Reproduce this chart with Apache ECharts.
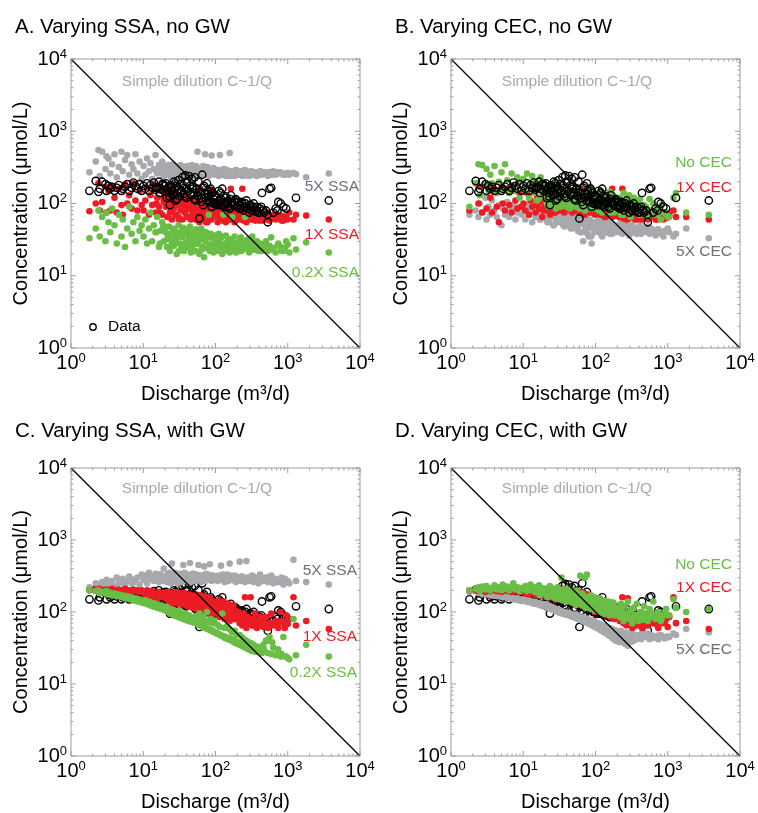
<!DOCTYPE html>
<html><head><meta charset="utf-8">
<script src="https://cdn.jsdelivr.net/npm/echarts@6/dist/echarts.min.js"></script>
<style>html,body{margin:0;padding:0;background:#fff}#c{width:758px;height:813px}</style>
</head><body><div id="c"></div>
<script>
// Discharge of each sample (m3/d), shared by observed data and all model runs
const Q = [
  1.8, 2.2, 2.4, 2.5, 2.7, 3.0, 3.1, 3.3, 3.5, 3.7, 4.0, 4.3, 4.6, 5.0, 5.2, 5.6, 6.0, 6.4, 6.9, 7.3, 7.8, 8.3, 8.9, 9.5,
  10.1, 10.7, 11.3, 12.0, 12.6, 13.3, 14.0, 14.8, 15.6, 16.5, 17.4, 18.3, 19.2, 19.9,
  20.5, 21.2, 22.0, 22.7, 23.4, 24.1, 24.9, 25.7, 26.5, 27.3, 28.2, 29.0, 29.9, 30.8, 31.8, 32.8, 33.8, 34.8, 35.9, 37.0, 38.1, 39.3, 40.5, 41.7, 43.0, 44.3, 45.6, 47.0, 48.5, 50.0,
  51.5, 53.1, 54.7, 56.4, 58.1, 59.9, 61.7, 63.6, 65.5, 67.5, 69.6, 71.7, 73.9, 76.1, 78.4, 80.8, 83.3, 85.8, 88.4, 91.1, 93.9, 96.7, 99.6,
  103, 107, 111, 115, 119, 124, 129, 134, 139, 145, 151, 157, 163, 170, 177, 184, 191, 199,
  207, 216, 225, 235, 245, 256, 268, 280, 293, 307, 322, 338, 355, 374, 394, 415, 440, 470,
  500, 530, 560, 590, 630, 680, 740, 800, 870, 950,
  1050, 1200, 1300, 1800, 3700,
  15.2, 17.0, 19.0, 21.6, 23.0, 24.5, 26.1, 27.8, 29.5, 31.3, 33.2, 35.3, 37.5, 39.8, 42.2, 44.9, 47.7, 50.7, 53.8, 57.2,
  60.7, 64.5, 68.5, 72.8, 77.3, 82.1, 87.2, 92.6, 98.4, 105, 112, 118, 126, 133, 142, 150, 160, 170, 180, 192,
  204, 216, 230, 244, 260, 276, 293, 312, 331, 352, 375, 400, 430, 460, 520, 610, 720, 820, 910, 1000
];
// Observed concentrations (umol/L)
const obs = [
  150, 205, 145, 160, 200, 185, 150, 175, 160, 170, 150, 165, 180, 150, 160, 170, 185, 150, 165, 195, 175, 160, 185, 150,
  175, 160, 190, 150, 180, 165, 195, 155, 170, 200, 160, 185, 150, 175,
  190, 120, 165, 140, 95, 180, 150, 130, 200, 160, 110, 175, 140, 210, 125, 185, 150, 230, 135, 165, 245, 120, 195, 150, 240, 175, 130, 220, 160, 140,
  230, 110, 160, 130, 200, 62, 145, 120, 250, 95, 175, 135, 110, 190, 150, 125, 105, 160, 90, 140, 115, 100, 130,
  120, 100, 150, 95, 115, 160, 105, 90, 125, 100, 110, 85, 130, 100, 95, 105, 115, 90,
  105, 95, 85, 100, 80, 90, 110, 85, 75, 95, 80, 100, 78, 90, 75, 85, 140, 75,
  80, 55, 160, 165, 75, 85, 105, 100, 90, 85,
  null, null, 120, null, 110,
  165, 140, 185, 155, 125, 170, 135, 190, 115, 160, 145, 180, 125, 200, 150, 135, 170, 115, 155, 125,
  140, 105, 165, 120, 135, 110, 150, 100, 125, 95, 110, 140, 95, 120, 100, 90, 115, 105, 95, 110,
  95, 85, 105, 90, 100, 85, 95, 80, 90, 85, 80, 75, 90, 80, 70, null, 80, null, null, null
];
// Panel A: varying SSA, no GW
const a5xSSA = [
  270, 380, 550, 240, 520, 300, 450, 420, 260, 350, 480, 230, 320, 520, 280, 400, 470, 250, 350, 300, 480, 260, 380, 220,
  330, 250, 420, 280, 360, 220, 300, 470, 260, 340, 290, 380, 240, 320,
  300, 250, 340, 270, 320, 230, 290, 350, 260, 310, 240, 330, 280, 300, 250, 340, 270, 320, 230, 290, 310, 260, 330, 280, 250, 300, 270, 340, 240, 310,
  290, 250, 270, 520, 310, 240, 300, 260, 280, 330, 250, 480, 290, 260, 310, 240, 270, 300, 460, 280, 310, 260, 290,
  260, 290, 240, 470, 280, 250, 300, 270, 240, 290, 260, 500, 280, 250, 270, 240, 290, 260,
  270, 250, 280, 240, 260, 290, 250, 270, 240, 280, 260, 250, 270, 240, 260, 280, 250, 270,
  260, 240, 270, 250, 280, 250, 260, 270, 250, 260,
  250, 265, 255, 230, 260,
  280, 320, 250, 300, 340, 260, 310, 290, 240, 330, 300, 270, 320, 250, 290, 310, 260, 280, 330, 240,
  270, 300, 250, 290, 320, 260, 280, 300, 250, 270, 290, 250, 270, 300, 260, 280, 240, 270, 260, 290,
  250, 275, 260, 285, 245, 270, 255, 280, 260, 250, 265, 250, 275, 260, 270, 255, 270, 260, 250, 265
];
const a1xSSA = [
  78, 100, 190, 80, 105, 170, 75, 150, 80, 175, 120, 75, 160, 95, 70, 185, 100, 130, 85, 190, 110, 80, 150, 95,
  80, 110, 165, 70, 130, 95, 180, 75, 120, 90, 150, 70, 105, 160,
  90, 120, 65, 105, 75, 130, 60, 100, 85, 115, 70, 95, 125, 65, 110, 80, 100, 60, 120, 90, 75, 105, 65, 115, 85, 95, 60, 110, 75, 100,
  85, 60, 105, 70, 95, 55, 160, 80, 65, 100, 75, 90, 55, 110, 70, 85, 60, 150, 75, 95, 65, 80, 70,
  75, 55, 90, 65, 80, 60, 95, 70, 55, 85, 65, 75, 160, 60, 80, 55, 70, 65,
  70, 60, 85, 160, 65, 75, 55, 80, 65, 90, 60, 70, 58, 75, 62, 68, 58, 72,
  60, 75, 58, 65, 70, 60, 62, 68, 58, 65,
  75, 60, 70, 68, 60,
  100, 75, 120, 65, 95, 80, 110, 70, 100, 60, 90, 120, 75, 105, 65, 95, 70, 110, 60, 85,
  75, 100, 65, 90, 55, 85, 60, 95, 70, 80, 65, 90, 58, 75, 85, 70, 60, 80, 65, 75,
  62, 78, 68, 58, 72, 66, 60, 74, 62, 70, 64, 58, 70, 62, 66, 62, 70, 58, 66, 60
];
const a02xSSA = [
  33, 45, 80, 35, 65, 30, 75, 55, 40, 85, 50, 28, 70, 35, 60, 25, 45, 90, 38, 55, 30, 65, 42, 50,
  35, 60, 28, 45, 75, 30, 50, 40, 65, 25, 42, 55, 30, 48,
  40, 25, 35, 48, 22, 38, 30, 45, 26, 42, 33, 20, 36, 50, 28, 40, 24, 34, 46, 22, 37, 29, 43, 25, 35, 48, 21, 32, 40, 27,
  35, 22, 42, 28, 38, 20, 32, 45, 25, 36, 18, 30, 40, 24, 34, 70, 22, 38, 27, 33, 21, 36, 26,
  30, 22, 38, 26, 34, 20, 70, 28, 36, 24, 32, 21, 30, 65, 26, 35, 22, 28,
  28, 22, 34, 25, 30, 65, 24, 32, 21, 28, 35, 23, 26, 30, 22, 28, 25, 24,
  30, 22, 26, 34, 24, 21, 28, 25, 22, 30,
  21, 33, 23, 29, 21,
  40, 28, 48, 32, 36, 26, 42, 30, 38, 22, 35, 45, 27, 40, 30, 24, 38, 33, 44, 28,
  36, 23, 40, 30, 34, 27, 37, 22, 33, 29, 31, 25, 35, 22, 28, 26, 32, 23, 29, 21,
  25, 30, 22, 27, 24, 28, 22, 26, 30, 23, 24, 27, 22, 26, 25, 23, 26, 22, 24, 27
];
// Panel B: varying CEC, no GW
const bNoCEC = [
  90, 190, 350, 130, 340, 180, 300, 150, 250, 190, 330, 140, 200, 270, 160, 350, 210, 140, 260, 180, 150, 230, 120, 200,
  220, 150, 260, 120, 180, 240, 140, 200, 110, 170, 230, 130, 190, 150,
  130, 100, 160, 90, 140, 115, 180, 95, 125, 150, 85, 110, 170, 100, 135, 90, 120, 155, 105, 140, 95, 115, 175, 100, 130, 85, 120, 150, 95, 110,
  120, 90, 140, 100, 160, 85, 115, 130, 95, 150, 105, 80, 125, 140, 95, 110, 170, 85, 100, 130, 90, 120, 105,
  95, 130, 80, 110, 150, 75, 100, 140, 85, 120, 95, 145, 75, 110, 130, 80, 105, 90,
  85, 120, 70, 100, 140, 75, 110, 90, 130, 65, 95, 120, 75, 105, 85, 115, 70, 95,
  90, 65, 115, 80, 100, 70, 85, 60, 75, 70,
  65, 120, 140, 75, 70,
  150, 120, 180, 100, 140, 110, 160, 95, 130, 115, 125, 100, 145, 90, 115, 105, 135, 95, 120, 100,
  110, 90, 130, 95, 115, 100, 120, 85, 110, 95, 90, 110, 80, 100, 120, 85, 105, 95, 75, 100,
  90, 80, 100, 70, 85, 95, 75, 85, 100, 80, 90, 70, 80, 95, 75, 80, 70, 95, 75, 65
];
const b1xCEC = [
  80, 190, 100, 170, 75, 180, 85, 160, 120, 75, 150, 90, 55, 170, 100, 80, 160, 95, 75, 150, 110, 85, 140, 90,
  100, 80, 140, 70, 110, 90, 160, 75, 120, 85, 105, 65, 130, 95,
  110, 80, 130, 95, 70, 120, 100, 85, 140, 75, 115, 90, 105, 130, 80, 100, 120, 90, 145, 75, 110, 95, 130, 85, 100, 115, 80, 120, 150, 90,
  100, 80, 120, 95, 140, 75, 110, 90, 160, 85, 105, 70, 125, 95, 80, 115, 100, 75, 110, 90, 130, 85, 95,
  90, 75, 110, 85, 70, 100, 80, 95, 65, 85, 105, 70, 90, 160, 75, 95, 80, 70,
  80, 65, 95, 160, 70, 85, 60, 90, 75, 65, 80, 70, 95, 60, 75, 85, 65, 70,
  70, 60, 80, 65, 75, 60, 70, 65, 60, 75,
  70, 80, 65, 65, 60,
  95, 120, 80, 110, 100, 85, 105, 75, 95, 115, 90, 80, 110, 85, 100, 95, 75, 105, 85, 90,
  80, 100, 70, 90, 85, 75, 95, 80, 70, 90, 85, 70, 80, 65, 75, 70, 80, 65, 75, 68,
  72, 65, 78, 62, 70, 68, 62, 75, 66, 60, 70, 64, 60, 68, 62, 66, 60, 70, 62, 64
];
const b5xCEC = [
  70, 80, 65, 100, 75, 120, 60, 90, 70, 110, 80, 65, 95, 50, 85, 70, 105, 65, 80, 95, 60, 75, 90, 70,
  85, 60, 95, 70, 80, 55, 100, 65, 75, 90, 60, 80, 70, 85,
  75, 60, 85, 55, 70, 90, 65, 80, 50, 75, 60, 85, 70, 55, 80, 65, 75, 90, 50, 70, 60, 80, 55, 70, 65, 75, 45, 60, 70, 55,
  65, 50, 70, 45, 60, 75, 40, 55, 65, 30, 60, 50, 70, 45, 55, 35, 60, 50, 28, 45, 55, 40, 50,
  55, 45, 60, 40, 50, 35, 55, 45, 60, 40, 50, 38, 55, 45, 42, 50, 40, 48,
  50, 42, 55, 38, 48, 45, 40, 52, 36, 45, 50, 40, 46, 38, 44, 50, 40, 45,
  42, 48, 38, 45, 40, 36, 44, 40, 35, 42,
  40, 35, 38, 45, 33,
  70, 60, 80, 55, 75, 65, 50, 72, 58, 62, 55, 68, 48, 60, 52, 58, 45, 62, 50, 42,
  52, 40, 55, 45, 38, 48, 35, 50, 42, 55, 45, 38, 50, 40, 48, 42, 50, 38, 46, 44,
  45, 40, 48, 42, 50, 44, 38, 46, 40, 42, 42, 45, 38, 44, 40, 40, 44, 38, 42, 45
];
// Panel C: varying SSA, with GW
const c5xSSA = [
  220, 250, 240, 210, 260, 230, 280, 250, 240, 270, 230, 300, 250, 260, 290, 240, 270, 310, 250, 280, 260, 300, 240, 330,
  280, 320, 250, 350, 290, 310, 270, 340, 300, 260, 330, 290, 400, 310,
  300, 260, 340, 280, 320, 250, 470, 300, 270, 350, 290, 310, 250, 330, 280, 300, 260, 340, 450, 290, 310, 270, 330, 280, 300, 480, 260, 320, 290, 340,
  310, 270, 330, 290, 450, 280, 300, 260, 320, 290, 430, 270, 310, 290, 330, 280, 460, 300, 270, 320, 290, 310, 280,
  300, 270, 320, 290, 440, 280, 310, 260, 300, 330, 270, 470, 290, 310, 280, 320, 260, 300,
  290, 500, 270, 310, 280, 260, 510, 300, 270, 290, 320, 260, 280, 300, 250, 330, 270, 290,
  300, 260, 280, 320, 250, 290, 260, 280, 240, 270,
  250, 530, 270, 260, 240,
  290, 330, 270, 310, 350, 280, 320, 300, 260, 340, 310, 280, 350, 290, 320, 300, 340, 270, 310, 290,
  320, 280, 300, 340, 290, 300, 320, 280, 310, 290, 310, 280, 330, 290, 300, 290, 320, 280, 300, 310,
  300, 280, 310, 290, 270, 290, 300, 270, 310, 280, 280, 300, 290, 270, 300, 280, 260, 300, 290, 270
];
const c1xSSA = [
  200, 205, 195, 210, 200, 190, 205, 200, 195, 210, 200, 195, 205, 190, 200, 210, 195, 200, 190, 205, 195, 200, 190, 200,
  190, 170, 200, 180, 160, 195, 175, 185, 155, 190, 170, 180, 160, 185,
  180, 150, 190, 140, 170, 160, 185, 130, 175, 150, 165, 190, 140, 170, 125, 180, 155, 165, 135, 185, 150, 170, 120, 160, 145, 175, 130, 165, 115, 150,
  160, 120, 175, 110, 150, 135, 170, 100, 145, 125, 165, 95, 140, 115, 160, 105, 150, 130, 90, 140, 110, 125, 100,
  130, 95, 145, 85, 120, 100, 140, 80, 115, 95, 130, 75, 110, 90, 125, 80, 105, 95,
  100, 70, 90, 65, 95, 160, 60, 85, 70, 160, 65, 80, 95, 60, 75, 85, 65, 70,
  85, 60, 70, 95, 65, 75, 60, 100, 70, 90,
  80, 160, 65, 75, 58,
  175, 160, 185, 150, 170, 145, 180, 160, 135, 175, 155, 130, 170, 145, 120, 150, 125, 160, 110, 140,
  130, 150, 115, 135, 105, 125, 100, 140, 110, 95, 115, 90, 120, 100, 85, 105, 85, 95, 80, 100,
  90, 75, 85, 70, 80, 75, 68, 80, 65, 72, 70, 65, 75, 62, 68, 70, 65, 75, 60, 68
];
const c02xSSA = [
  200, 195, 200, 185, 190, 180, 195, 175, 185, 170, 180, 165, 175, 160, 170, 155, 165, 150, 160, 145, 155, 140, 150, 135,
  133, 145, 128, 140, 123, 135, 118, 130, 115, 125, 112, 122, 108, 118,
  105, 118, 100, 112, 98, 94, 108, 92, 104, 89, 100, 87, 96, 85, 105, 83, 93, 81, 90, 79, 95, 77, 87, 76, 90, 74, 84, 73, 81, 72,
  71, 88, 69, 82, 67, 95, 65, 78, 63, 85, 62, 75, 60, 100, 58, 72, 57, 80, 56, 70, 54, 76, 52,
  51, 66, 49, 62, 48, 95, 46, 60, 45, 64, 43, 57, 42, 52, 41, 55, 39, 48,
  38, 48, 36, 44, 34, 41, 33, 39, 31, 37, 30, 35, 29, 33, 28, 31, 27, 30,
  40, 27, 45, 26, 32, 25, 30, 24, 45, 24,
  22, 80, 25, 35, 24,
  120, 112, 108, 102, 100, 97, 95, 93, 90, 88, 86, 84, 82, 80, 78, 76, 74, 72, 70, 68,
  66, 64, 62, 60, 58, 57, 55, 53, 52, 50, 49, 47, 46, 44, 43, 42, 41, 40, 38, 37,
  36, 35, 34, 33, 32, 31, 30, 29, 29, 28, 28, 30, 32, 35, 40, 38, 30, 26, 24, 23
];
// Panel D: varying CEC, with GW
const dNoCEC = [
  200, 210, 220, 195, 225, 205, 230, 210, 200, 215, 235, 205, 220, 200, 240, 210, 225, 200, 215, 250, 205, 220, 195, 215,
  205, 230, 195, 215, 240, 200, 220, 190, 210, 235, 195, 215, 185, 205,
  200, 170, 215, 185, 230, 175, 195, 165, 210, 180, 200, 160, 220, 175, 195, 155, 300, 180, 205, 160, 190, 150, 210, 170, 185, 145, 200, 165, 180, 140,
  175, 140, 195, 150, 170, 135, 320, 155, 180, 130, 165, 300, 145, 330, 125, 160, 140, 170, 120, 150, 135, 160, 115,
  140, 110, 155, 100, 130, 120, 145, 95, 125, 110, 140, 90, 120, 105, 135, 90, 115, 100,
  110, 85, 130, 95, 75, 120, 90, 140, 80, 105, 70, 115, 90, 130, 75, 100, 85, 120,
  95, 75, 110, 85, 140, 80, 100, 75, 90, 110,
  90, 150, 115, 100, 110,
  190, 170, 205, 160, 180, 165, 190, 155, 175, 150, 170, 145, 180, 140, 160, 150, 135, 165, 125, 145,
  140, 125, 150, 115, 135, 125, 110, 135, 105, 120, 115, 100, 125, 95, 110, 105, 95, 115, 90, 100,
  100, 90, 110, 85, 95, 95, 85, 105, 80, 90, 90, 80, 100, 78, 85, 95, 85, 80, 100, 90
];
const d1xCEC = [
  200, 205, 195, 210, 200, 190, 205, 200, 195, 210, 200, 195, 205, 190, 200, 210, 195, 200, 190, 205, 195, 200, 190, 200,
  195, 180, 205, 175, 190, 185, 200, 170, 190, 180, 195, 175, 185, 180,
  185, 170, 200, 160, 190, 175, 205, 165, 180, 195, 155, 185, 170, 200, 160, 190, 175, 210, 165, 185, 150, 195, 170, 180, 160, 190, 145, 175, 165, 200,
  180, 150, 200, 140, 170, 160, 190, 135, 165, 155, 180, 130, 160, 145, 175, 125, 150, 140, 120, 150, 130, 145, 115,
  140, 110, 130, 100, 125, 115, 135, 95, 120, 105, 130, 90, 115, 100, 125, 85, 110, 95,
  100, 80, 95, 160, 75, 90, 65, 155, 70, 95, 60, 80, 90, 65, 75, 85, 60, 70,
  85, 65, 75, 95, 70, 80, 60, 90, 70, 80,
  85, 160, 70, 75, 58,
  175, 195, 165, 185, 170, 160, 180, 150, 175, 165, 155, 170, 145, 165, 140, 150, 135, 160, 125, 145,
  130, 150, 120, 140, 115, 125, 110, 135, 100, 120, 105, 120, 95, 110, 90, 100, 85, 95, 80, 90,
  85, 75, 90, 70, 80, 75, 85, 70, 80, 65, 75, 68, 80, 62, 70, 70, 65, 80, 72, 62
];
const d5xCEC = [
  190, 200, 185, 195, 180, 190, 175, 185, 170, 180, 168, 175, 165, 170, 160, 168, 155, 162, 152, 158, 148, 155, 145, 150,
  142, 150, 138, 145, 135, 140, 130, 138, 128, 133, 124, 130, 120, 126,
  120, 128, 115, 122, 112, 118, 108, 115, 106, 112, 104, 110, 100, 108, 98, 105, 96, 102, 94, 100, 93, 98, 92, 96, 90, 95, 89, 93, 88, 91,
  88, 92, 86, 90, 84, 88, 82, 86, 80, 84, 78, 82, 76, 80, 75, 78, 73, 77, 72, 75, 71, 74, 70,
  66, 70, 64, 68, 62, 66, 60, 64, 58, 62, 56, 60, 54, 58, 52, 56, 50, 54,
  50, 45, 55, 40, 48, 36, 52, 34, 45, 38, 50, 40, 46, 42, 48, 44, 50, 46,
  45, 50, 42, 48, 44, 46, 42, 48, 45, 44,
  45, 50, 48, 58, 52,
  130, 124, 120, 116, 113, 110, 108, 105, 103, 100, 98, 96, 94, 92, 90, 88, 86, 84, 82, 80,
  78, 76, 74, 72, 70, 68, 66, 64, 62, 60, 58, 56, 54, 52, 50, 48, 46, 44, 42, 40,
  39, 38, 40, 42, 44, 40, 43, 45, 41, 47, 44, 46, 42, 48, 45, 44, 47, 45, 43, 46
];
// Simple dilution line C ~ 1/Q
const dilutionQ = [1, 10000];
const dilutionC = [10000, 1];
// Axis ticks (log decades and minor ticks)
const majorTicks = [1, 10, 100, 1000, 10000];
const minorTicks = [2, 3, 4, 5, 6, 7, 8, 9, 20, 30, 40, 50, 60, 70, 80, 90, 200, 300, 400, 500, 600, 700, 800, 900, 2000, 3000, 4000, 5000, 6000, 7000, 8000, 9000];
const panelTitles = ['A. Varying SSA, no GW', 'B. Varying CEC, no GW', 'C. Varying SSA, with GW', 'D. Varying CEC, with GW'];
const xName = 'Discharge (m³/d)';
const yName = 'Concentration (μmol/L)';
const dilutionLabel = 'Simple dilution C~1/Q';

const FONT = '"Liberation Sans", Arial, Helvetica, sans-serif';
const GRAY = '#a7a9ac', RED = '#ed1c24', GREEN = '#6abd45', LGRAY = '#6d6f7b', AXC = '#9d9d9d';

function pts(cs) {
  const out = [];
  for (let i = 0; i < Q.length; i++) if (cs[i] != null) out.push([Q[i], cs[i]]);
  return out;
}

const grids = [
  {left: 71, top: 59, width: 289, height: 289},
  {left: 451, top: 59, width: 289, height: 289},
  {left: 71, top: 468, width: 289, height: 288},
  {left: 451, top: 468, width: 289, height: 288}
];

const labelRich = {
  b: {fontSize: 20, fontFamily: FONT, color: '#000'},
  s: {fontSize: 13, fontFamily: FONT, color: '#000', verticalAlign: 'top', padding: [0, 0, 10, 0]}
};
function supFmt(v) {
  const e = Math.round(Math.log10(v));
  return '{b|10}{s|' + e + '}';
}

const xAxes = [], yAxes = [];
grids.forEach((g, i) => {
  xAxes.push({
    type: 'log', logBase: 10, min: 1, max: 10000, gridIndex: i, splitNumber: 4,
    axisLine: {show: false}, axisTick: {show: false}, splitLine: {show: false},
    axisLabel: {formatter: supFmt, rich: labelRich, margin: 4},
    name: xName, nameLocation: 'middle', nameGap: 36,
    nameTextStyle: {fontSize: 20, fontFamily: FONT, color: '#000'}
  });
  yAxes.push({
    type: 'log', logBase: 10, min: 1, max: 10000, gridIndex: i, splitNumber: 4,
    axisLine: {show: false}, axisTick: {show: false}, splitLine: {show: false},
    axisLabel: {formatter: supFmt, rich: labelRich, margin: 4},
    name: yName, nameLocation: 'middle', nameGap: 40,
    nameTextStyle: {fontSize: 20, fontFamily: FONT, color: '#000'}
  });
});

function scatter(i, name, cs, color, z) {
  return {
    type: 'scatter', name: name, xAxisIndex: i, yAxisIndex: i, data: pts(cs),
    symbol: 'circle', symbolSize: 6.6, itemStyle: {color: color, opacity: 1},
    z: z, silent: true, animation: false
  };
}
function dataSeries(i, z) {
  return {
    type: 'scatter', name: 'Data', xAxisIndex: i, yAxisIndex: i, data: pts(obs),
    symbol: 'circle', symbolSize: 7.4,
    itemStyle: {color: 'rgba(0,0,0,0)', borderColor: '#000', borderWidth: 1.4, opacity: 1},
    z: z, silent: true, animation: false
  };
}
function lineSeries(i) {
  return {
    type: 'line', xAxisIndex: i, yAxisIndex: i,
    data: dilutionQ.map((q, k) => [q, dilutionC[k]]),
    symbol: 'none', lineStyle: {color: '#000', width: 1.3}, z: 10, silent: true, animation: false
  };
}
const allTicks = majorTicks.concat(minorTicks);
function tickSeries(i) {
  return {
    type: 'custom', xAxisIndex: i, yAxisIndex: i, silent: true, animation: false, clip: false, z: 11,
    data: allTicks.map(v => [v, v]),
    renderItem: function (params, api) {
      const v = api.value(0);
      const L = majorTicks.indexOf(v) >= 0 ? 5 : 2.5;
      const b = api.coord([v, 1]), t = api.coord([v, 10000]);
      const l = api.coord([1, v]), r = api.coord([10000, v]);
      const st = {stroke: AXC, lineWidth: 1};
      return {type: 'group', children: [
        {type: 'line', shape: {x1: b[0], y1: b[1], x2: b[0], y2: b[1] - L}, style: st},
        {type: 'line', shape: {x1: t[0], y1: t[1], x2: t[0], y2: t[1] + L}, style: st},
        {type: 'line', shape: {x1: l[0], y1: l[1], x2: l[0] + L, y2: l[1]}, style: st},
        {type: 'line', shape: {x1: r[0], y1: r[1], x2: r[0] - L, y2: r[1]}, style: st}
      ]};
    }
  };
}

const series = [
  // A
  scatter(0, '5X SSA', a5xSSA, GRAY, 2), scatter(0, '1X SSA', a1xSSA, RED, 3), scatter(0, '0.2X SSA', a02xSSA, GREEN, 4),
  dataSeries(0, 5), lineSeries(0), tickSeries(0),
  // B
  scatter(1, '5X CEC', b5xCEC, GRAY, 2), scatter(1, '1X CEC', b1xCEC, RED, 3), scatter(1, 'No CEC', bNoCEC, GREEN, 4),
  dataSeries(1, 5), lineSeries(1), tickSeries(1),
  // C
  dataSeries(2, 1), scatter(2, '5X SSA', c5xSSA, GRAY, 2), scatter(2, '1X SSA', c1xSSA, RED, 3), scatter(2, '0.2X SSA', c02xSSA, GREEN, 4),
  lineSeries(2), tickSeries(2),
  // D
  dataSeries(3, 1), scatter(3, '5X CEC', d5xCEC, GRAY, 2), scatter(3, '1X CEC', d1xCEC, RED, 3), scatter(3, 'No CEC', dNoCEC, GREEN, 4),
  lineSeries(3), tickSeries(3)
];

function txt(x, y, text, color, align, size) {
  return {type: 'text', x: x, y: y, silent: true, z: 20,
    style: {text: text, fill: color, font: (size || 15.5) + 'px ' + FONT, align: align || 'left', verticalAlign: 'middle'}};
}
const graphics = [
  txt(197, 82, dilutionLabel, GRAY, 'center'), txt(577, 82, dilutionLabel, GRAY, 'center'),
  txt(197, 489, dilutionLabel, GRAY, 'center'), txt(577, 489, dilutionLabel, GRAY, 'center'),
  txt(359, 187, '5X SSA', LGRAY, 'right'), txt(359, 235, '1X SSA', RED, 'right'), txt(359, 273, '0.2X SSA', GREEN, 'right'),
  txt(732, 163, 'No CEC', GREEN, 'right'), txt(732, 188, '1X CEC', RED, 'right'), txt(732, 252, '5X CEC', LGRAY, 'right'),
  txt(357, 571, '5X SSA', LGRAY, 'right'), txt(357, 637, '1X SSA', RED, 'right'), txt(357, 673, '0.2X SSA', GREEN, 'right'),
  txt(732, 565, 'No CEC', GREEN, 'right'), txt(732, 588, '1X CEC', RED, 'right'), txt(732, 650, '5X CEC', LGRAY, 'right'),
  {type: 'circle', shape: {cx: 93, cy: 327, r: 3.2}, style: {fill: 'none', stroke: '#000', lineWidth: 1.4}, z: 20, silent: true},
  txt(108, 327, 'Data', '#000', 'left')
];

const titles = panelTitles.map((t, i) => ({
  text: t, left: (i % 2 === 0 ? 10 : 390), top: (i < 2 ? 12 : 416),
  textStyle: {fontSize: 20.5, fontWeight: 'normal', fontFamily: FONT, color: '#000'}
}));

const chart = echarts.init(document.getElementById('c'), null, {renderer: 'canvas'});
chart.setOption({
  animation: false,
  backgroundColor: '#fff',
  title: titles,
  grid: grids.map(g => Object.assign({show: true, borderColor: AXC, borderWidth: 1, backgroundColor: 'rgba(0,0,0,0)'}, g)),
  xAxis: xAxes,
  yAxis: yAxes,
  series: series,
  graphic: graphics
});
</script>
</body></html>
